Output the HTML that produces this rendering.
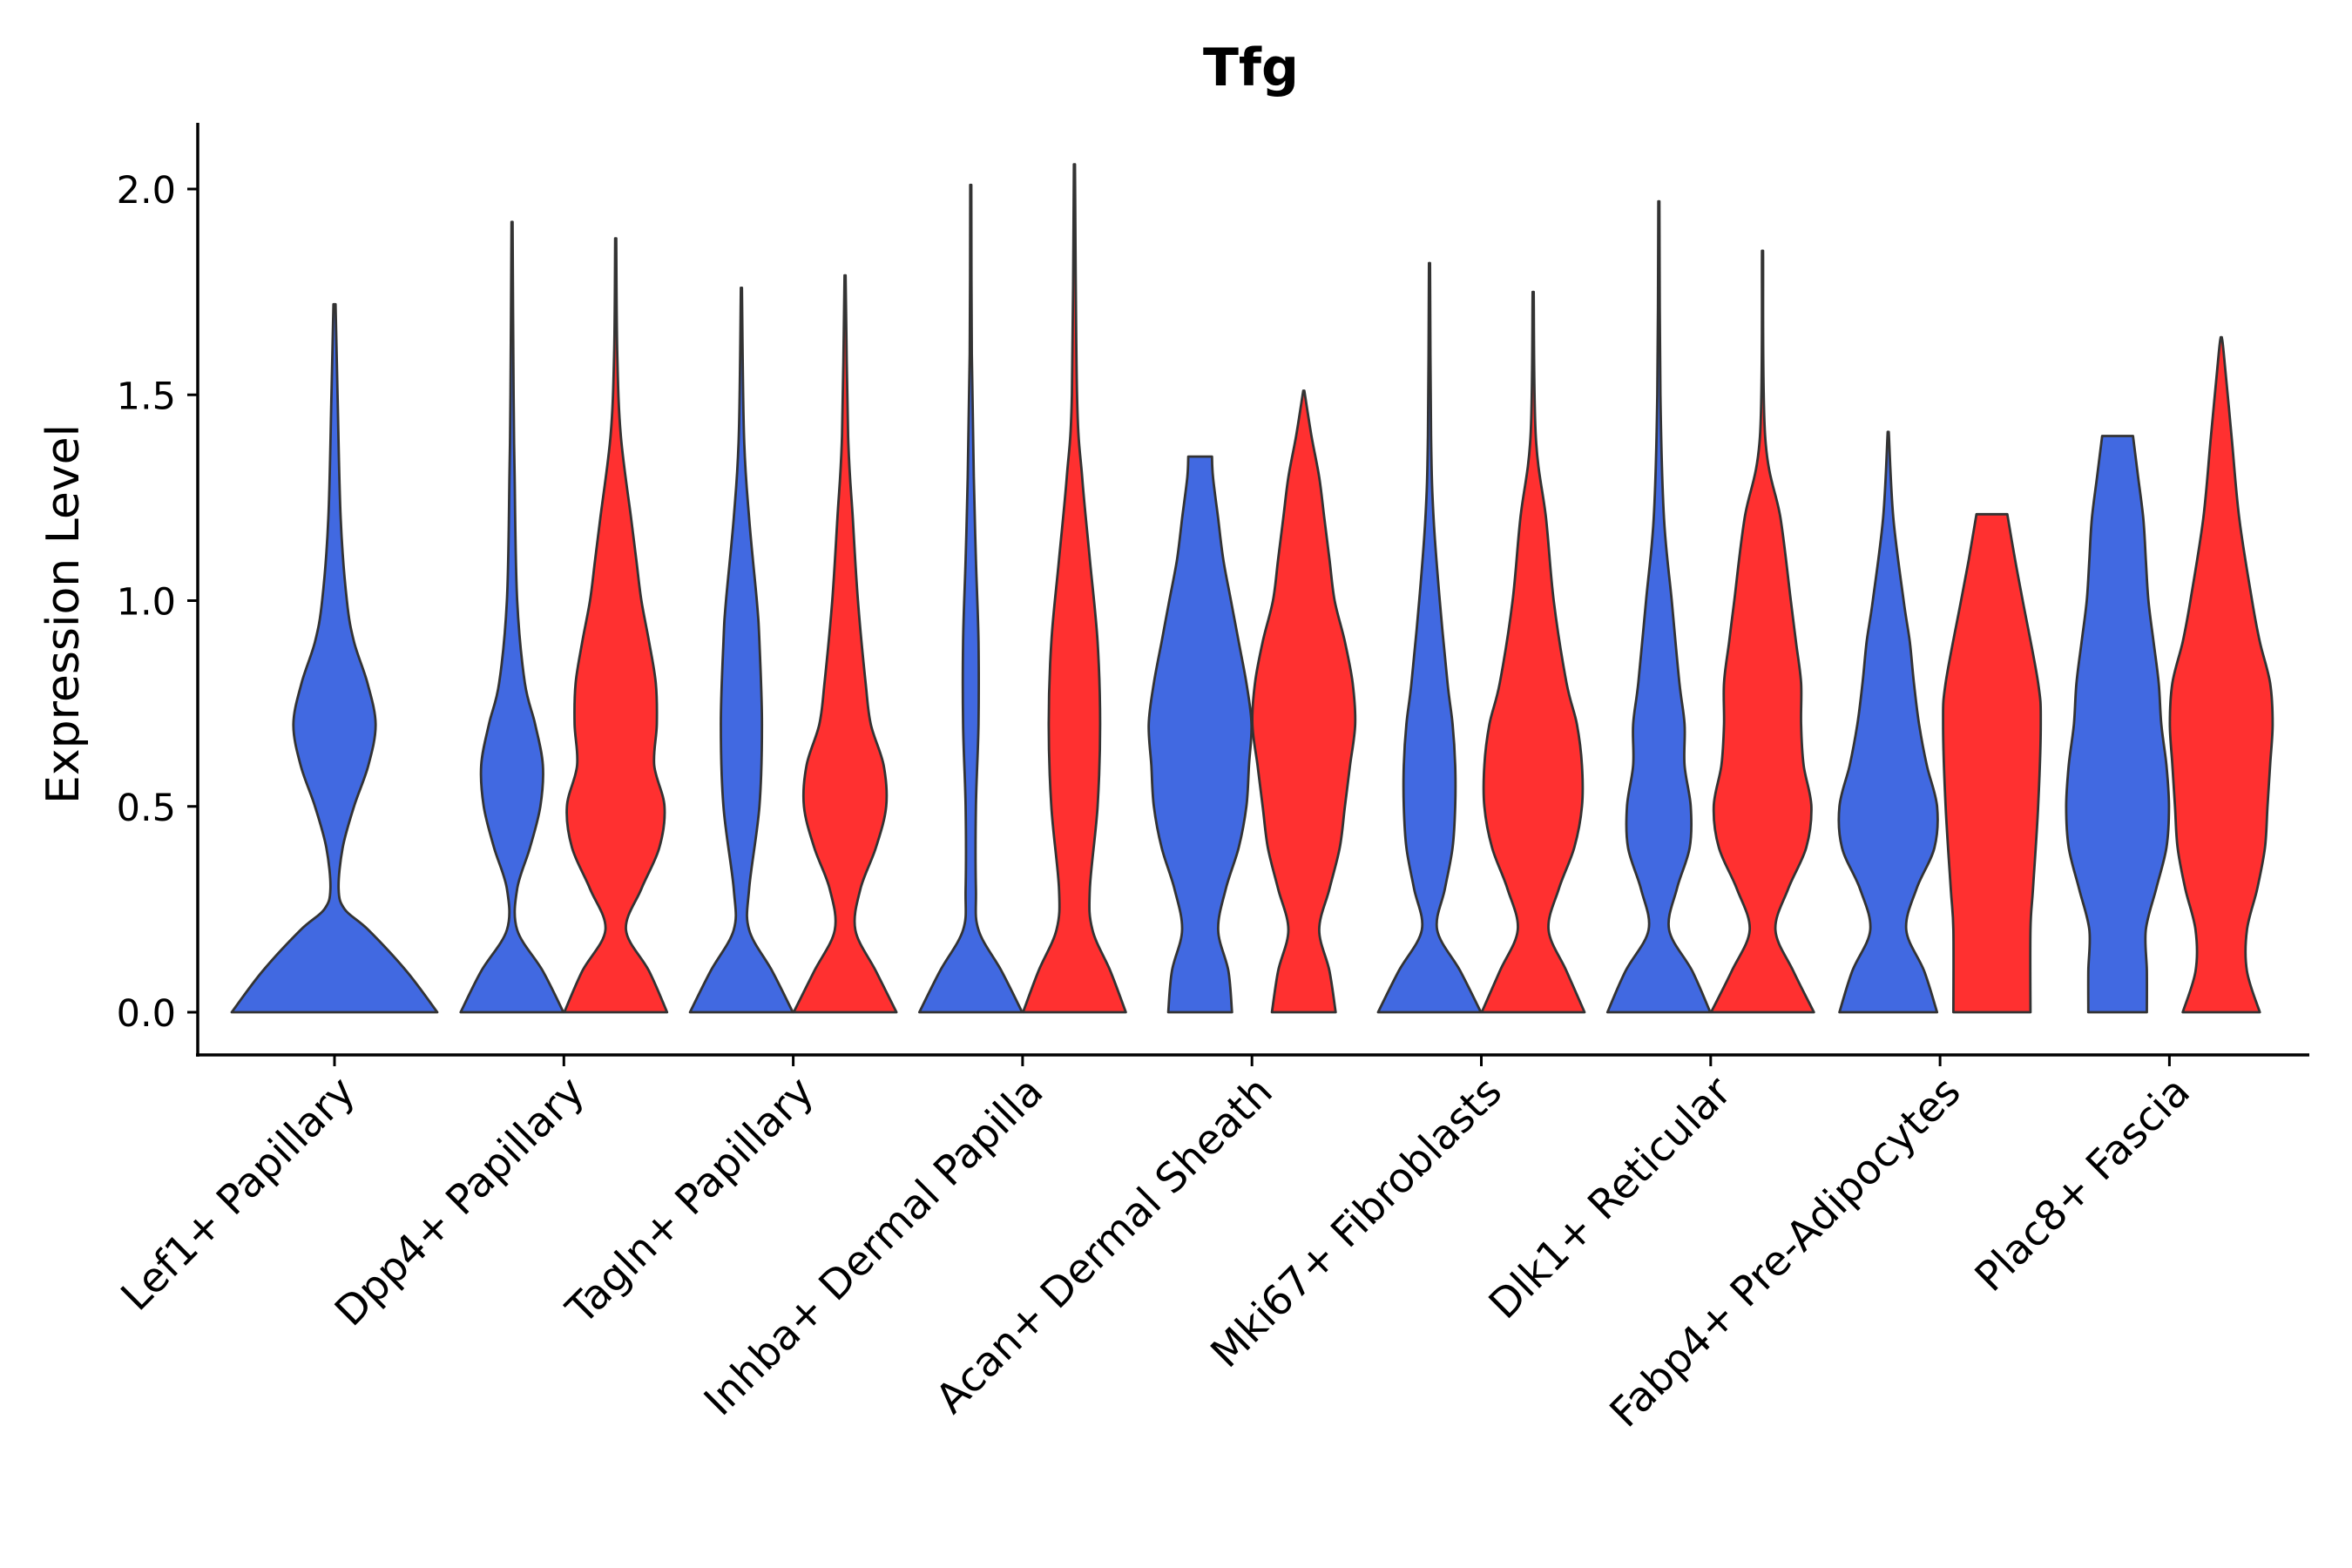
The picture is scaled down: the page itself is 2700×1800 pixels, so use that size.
<!DOCTYPE html>
<html><head><meta charset="utf-8"><style>html,body{margin:0;padding:0;background:#fff}svg{display:block}</style></head>
<body>
<svg id="chart" xmlns="http://www.w3.org/2000/svg" width="2700" height="1800" viewBox="0 0 2700 1800" font-family="'DejaVu Sans','Liberation Sans',sans-serif">
<rect width="2700" height="1800" fill="#fff"/>
<text x="1436" y="98" text-anchor="middle" font-size="60" font-weight="bold">Tfg</text>
<text transform="translate(90,705) rotate(-90)" text-anchor="middle" font-size="52">Expression Level</text>
<g id="violins"></g>
<g id="axes"></g>
</svg>
<script>
const categories=["Lef1+ Papillary","Dpp4+ Papillary","Tagln+ Papillary","Inhba+ Dermal Papilla","Acan+ Dermal Sheath","Mki67+ Fibroblasts","Dlk1+ Reticular","Fabp4+ Pre-Adipocytes","Plac8+ Fascia"];
const yTicks=[0,0.5,1,1.5,2];
const yTickLabels=["0.0","0.5","1.0","1.5","2.0"];
const violinGroups=[0,1,1,2,2,3,3,4,4,5,5,6,6,7,7,8,8];
const violinSides=["single","blue","red","blue","red","blue","red","blue","red","blue","red","blue","red","blue","red","blue","red"];
const violinLevels=[
[0,0.1,0.2,0.25,0.3,0.4,0.5,0.6,0.7,0.8,0.9,1.0,1.2,1.5,1.72],
[0,0.1,0.2,0.3,0.4,0.5,0.6,0.7,0.8,1.0,1.3,1.5,1.92],
[0,0.1,0.2,0.3,0.4,0.5,0.6,0.7,0.8,0.9,1.0,1.1,1.2,1.4,1.6,1.88],
[0,0.1,0.2,0.3,0.5,0.7,0.9,1.0,1.2,1.4,1.76],
[0,0.1,0.2,0.3,0.4,0.5,0.6,0.7,0.8,1.0,1.2,1.4,1.79],
[0,0.1,0.2,0.3,0.5,0.7,0.9,1.1,1.3,1.6,2.01],
[0,0.1,0.2,0.3,0.5,0.7,0.9,1.1,1.3,1.5,2.06],
[0,0.1,0.2,0.3,0.4,0.5,0.6,0.7,0.8,0.9,1.0,1.1,1.2,1.3,1.35],
[0,0.1,0.2,0.3,0.4,0.5,0.6,0.7,0.8,0.9,1.0,1.1,1.2,1.3,1.4,1.51],
[0,0.1,0.2,0.3,0.4,0.5,0.6,0.7,0.8,1.0,1.2,1.4,1.82],
[0,0.1,0.2,0.3,0.4,0.5,0.6,0.7,0.8,1.0,1.2,1.4,1.75],
[0,0.1,0.2,0.3,0.4,0.5,0.6,0.7,0.8,1.0,1.2,1.5,1.97],
[0,0.1,0.2,0.3,0.4,0.5,0.6,0.7,0.8,0.9,1.0,1.2,1.4,1.85],
[0,0.1,0.2,0.3,0.4,0.5,0.6,0.7,0.8,0.9,1.0,1.2,1.41],
[0,0.2,0.3,0.5,0.7,0.8,1.0,1.1,1.21],
[0,0.1,0.2,0.3,0.4,0.5,0.6,0.7,0.8,0.9,1.0,1.1,1.2,1.3,1.4],
[0,0.1,0.2,0.3,0.4,0.5,0.6,0.7,0.8,0.9,1.0,1.2,1.4,1.6,1.64]];
const violinWidths=[
[1.0,0.7,0.33,0.1,0.04,0.08,0.19,0.33,0.4,0.32,0.19,0.12,0.06,0.03,0.01],
[1.0,0.6,0.1,0.1,0.35,0.55,0.6,0.45,0.25,0.1,0.05,0.03,0.01],
[1.0,0.65,0.2,0.5,0.85,0.95,0.75,0.8,0.78,0.65,0.5,0.4,0.3,0.1,0.03,0.01],
[1.0,0.6,0.15,0.15,0.35,0.4,0.35,0.3,0.15,0.05,0.01],
[1.0,0.6,0.2,0.3,0.6,0.8,0.75,0.5,0.4,0.25,0.15,0.06,0.01],
[1.0,0.6,0.15,0.1,0.1,0.15,0.15,0.1,0.06,0.02,0.01],
[1.0,0.7,0.35,0.3,0.45,0.5,0.45,0.3,0.15,0.05,0.01],
[0.62,0.55,0.35,0.5,0.75,0.9,0.95,1.0,0.9,0.75,0.6,0.45,0.35,0.25,0.23],
[0.62,0.5,0.3,0.5,0.7,0.8,0.9,1.0,0.95,0.8,0.6,0.5,0.4,0.3,0.15,0.01],
[1.0,0.6,0.15,0.3,0.45,0.5,0.5,0.45,0.35,0.2,0.08,0.03,0.01],
[1.0,0.65,0.3,0.5,0.8,0.95,0.95,0.85,0.65,0.4,0.25,0.05,0.01],
[1.0,0.65,0.2,0.35,0.6,0.62,0.5,0.5,0.4,0.25,0.1,0.03,0.01],
[1.0,0.6,0.25,0.5,0.85,0.95,0.8,0.75,0.75,0.65,0.55,0.35,0.05,0.01],
[0.95,0.7,0.35,0.55,0.9,0.95,0.75,0.6,0.5,0.42,0.3,0.1,0.01],
[0.75,0.75,0.8,0.9,0.95,0.9,0.6,0.45,0.3],
[0.57,0.57,0.55,0.75,0.95,1.0,0.95,0.85,0.8,0.7,0.6,0.55,0.5,0.4,0.3],
[0.75,0.5,0.5,0.7,0.85,0.9,0.95,1.0,0.95,0.75,0.6,0.35,0.2,0.05,0.01]];

const NS="http://www.w3.org/2000/svg";
const X0=384, XSTEP=263.3, Y0=1162, YUNIT=472.5;
function xGroup(i){return X0+i*XSTEP;}
function yScale(v){return Y0-v*YUNIT;}
function spline(pts){
  let d="";
  for(let i=0;i<pts.length-1;i++){
    const p0=pts[Math.max(0,i-1)],p1=pts[i],p2=pts[i+1],p3=pts[Math.min(pts.length-1,i+2)];
    const c1=[p1[0]+(p2[0]-p0[0])/6,p1[1]+(p2[1]-p0[1])/6];
    const c2=[p2[0]-(p3[0]-p1[0])/6,p2[1]-(p3[1]-p1[1])/6];
    d+=" C"+c1[0].toFixed(1)+","+c1[1].toFixed(1)+" "+c2[0].toFixed(1)+","+c2[1].toFixed(1)+" "+p2[0].toFixed(1)+","+p2[1].toFixed(1);
  }
  return d;
}
const vg=document.getElementById('violins');
for(let k=0;k<violinGroups.length;k++){
  const side=violinSides[k];
  let cx=xGroup(violinGroups[k]), hw=59, col="#4169E1";
  if(side==="single"){hw=118;}
  else if(side==="blue"){cx-=59.5;}
  else {cx+=59.5;col="#FF3030";}
  const L=violinLevels[k], W=violinWidths[k];
  const right=[], left=[];
  for(let j=0;j<L.length;j++){
    right.push([cx+W[j]*hw,yScale(L[j])]);
    left.unshift([cx-W[j]*hw,yScale(L[j])]);
  }
  let d="M"+right[0][0].toFixed(1)+","+right[0][1].toFixed(1)+spline(right);
  d+=" L"+left[0][0].toFixed(1)+","+left[0][1].toFixed(1)+spline(left)+" Z";
  const p=document.createElementNS(NS,'path');
  p.setAttribute('d',d);
  p.setAttribute('fill',col);
  p.setAttribute('stroke','#333');
  p.setAttribute('stroke-width','2.8');
  p.setAttribute('stroke-linejoin','round');
  
  
  vg.appendChild(p);
}
const ag=document.getElementById('axes');
function mk(tag,attrs){const e=document.createElementNS(NS,tag);for(const a in attrs)e.setAttribute(a,attrs[a]);ag.appendChild(e);return e;}
const yax=mk('line',{x1:227,y1:141,x2:227,y2:1213,stroke:'#000','stroke-width':3.5});


const xax=mk('line',{x1:225,y1:1211,x2:2651,y2:1211,stroke:'#000','stroke-width':3.5});


for(let i=0;i<yTicks.length;i++){
  const y=yScale(yTicks[i]);
  const t=mk('line',{x1:215,y1:y,x2:227,y2:y,stroke:'#000','stroke-width':3});
  
  
  const tx=mk('text',{x:202,y:y+16,'text-anchor':'end','font-size':43,fill:'#000'});
  tx.textContent=yTickLabels[i];
  
  
}
for(let i=0;i<categories.length;i++){
  const x=xGroup(i);
  const t=mk('line',{x1:x,y1:1211,x2:x,y2:1224,stroke:'#000','stroke-width':3});
  
  
  const ax=x+26, ay=1256;
  const tx=mk('text',{x:ax,y:ay,'text-anchor':'end','font-size':47,fill:'#000',transform:'rotate(-45 '+ax+' '+ay+')'});
  tx.textContent=categories[i];
  
  
}
</script>
</body></html>
